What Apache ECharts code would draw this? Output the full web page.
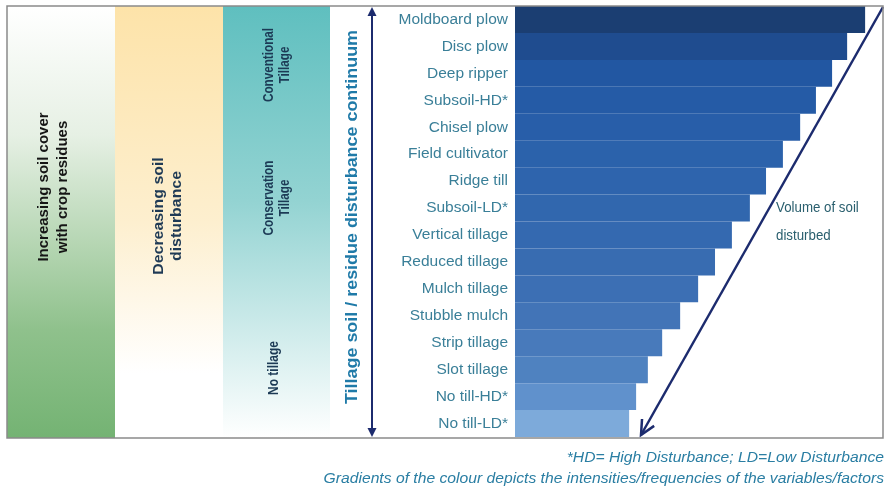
<!DOCTYPE html>
<html>
<head>
<meta charset="utf-8">
<script src="https://cdn.jsdelivr.net/npm/echarts@6/dist/echarts.min.js"></script>
<style>
  html, body { margin: 0; padding: 0; background: #fff; }
  #main { width: 886px; height: 491px; }
</style>
</head>
<body>
<div id="main"></div>
<script>
// tillage practices, most disturbing first
var practices = ['Moldboard plow', 'Disc plow', 'Deep ripper', 'Subsoil-HD*', 'Chisel plow',
  'Field cultivator', 'Ridge till', 'Subsoil-LD*', 'Vertical tillage', 'Reduced tillage',
  'Mulch tillage', 'Stubble mulch', 'Strip tillage', 'Slot tillage', 'No till-HD*', 'No till-LD*'];
// relative volume of soil disturbed (bar length)
var volumeDisturbed = [95.4, 90.5, 86.4, 82.0, 77.7, 73.0, 68.4, 64.0, 59.1, 54.5, 49.9, 45.0, 40.1, 36.2, 33.0, 31.1];
// shading, dark -> light
var barColors = ['#1b3e72', '#1f4c8f', '#2257a2', '#255ba6', '#285ea9', '#2b62ab', '#2e64ad', '#3167ae',
  '#3469b0', '#386cb1', '#3c6fb4', '#4274b7', '#487abb', '#4f82c0', '#6091cc', '#7daada'];

var colTexts = ['Increasing soil cover\nwith crop residues', 'Decreasing soil\ndisturbance'];
var tillageGroups = ['Conventional\nTillage', 'Conservation\nTillage', 'No tillage'];
var footnotes = ['*HD= High Disturbance; LD=Low Disturbance',
  'Gradients of the colour depicts the intensities/frequencies of the variables/factors'];

var myChart = echarts.init(document.getElementById('main'));

var FONT = 'Liberation Sans, Arial, sans-serif';
var navy = '#1c2b6e';

function grad(stops) {
  return new echarts.graphic.LinearGradient(0, 0, 0, 1, stops);
}

// arrow head helper (open V)
function arrowHead(x, y, fromX, fromY, len, ang) {
  var dx = fromX - x, dy = fromY - y;
  var d = Math.sqrt(dx * dx + dy * dy);
  var ux = dx / d, uy = dy / d;
  var pts = [];
  [ang, -ang].forEach(function (a) {
    var c = Math.cos(a), s = Math.sin(a);
    pts.push([x + len * (ux * c - uy * s), y + len * (ux * s + uy * c)]);
  });
  return [pts[0], [x, y], pts[1]];
}

var diagStart = [883, 7], diagEnd = [641, 435];

var graphics = [
  // left shaded columns
  { type: 'rect', shape: { x: 7, y: 6, width: 108, height: 432 }, z: 0,
    style: { fill: grad([{ offset: 0, color: '#ffffff' }, { offset: 0.3, color: '#e6f0e4' }, { offset: 0.75, color: '#8fc18c' }, { offset: 1, color: '#74b373' }]) } },
  { type: 'rect', shape: { x: 115, y: 6, width: 108, height: 432 }, z: 0,
    style: { fill: grad([{ offset: 0, color: '#fde3a9' }, { offset: 0.5, color: '#fdefcf' }, { offset: 0.85, color: '#ffffff' }, { offset: 1, color: '#ffffff' }]) } },
  { type: 'rect', shape: { x: 223, y: 6, width: 107, height: 432 }, z: 0,
    style: { fill: grad([{ offset: 0, color: '#5fbfbf' }, { offset: 0.45, color: '#93d3d2' }, { offset: 1, color: '#ffffff' }]) } },
  // rotated column texts
  { type: 'text', x: 53, y: 187, rotation: Math.PI / 2, z: 5,
    style: { text: colTexts[0], font: 'bold 15px ' + FONT, fill: '#151515', align: 'center', verticalAlign: 'middle', lineHeight: 19 } },
  { type: 'text', x: 168, y: 216, rotation: Math.PI / 2, z: 5,
    style: { text: colTexts[1], font: 'bold 15px ' + FONT, fill: '#1f3a55', align: 'center', verticalAlign: 'middle', lineHeight: 18 },
    scaleX: 1.06 },
  { type: 'text', x: 277, y: 65, rotation: Math.PI / 2, z: 5, scaleX: 0.78,
    style: { text: tillageGroups[0], font: 'bold 15px ' + FONT, fill: '#1c3a55', align: 'center', verticalAlign: 'middle', lineHeight: 16 } },
  { type: 'text', x: 277, y: 198, rotation: Math.PI / 2, z: 5, scaleX: 0.78,
    style: { text: tillageGroups[1], font: 'bold 15px ' + FONT, fill: '#1c3a55', align: 'center', verticalAlign: 'middle', lineHeight: 16 } },
  { type: 'text', x: 274, y: 368, rotation: Math.PI / 2, z: 5, scaleX: 0.8,
    style: { text: tillageGroups[2], font: 'bold 15px ' + FONT, fill: '#1c3a55', align: 'center', verticalAlign: 'middle' } },
  // continuum double arrow
  { type: 'line', shape: { x1: 372, y1: 14, x2: 372, y2: 430 }, z: 5, style: { stroke: navy, lineWidth: 2 } },
  { type: 'polygon', shape: { points: [[372, 7], [367.5, 16], [376.5, 16]] }, z: 5, style: { fill: navy } },
  { type: 'polygon', shape: { points: [[372, 437], [367.5, 428], [376.5, 428]] }, z: 5, style: { fill: navy } },
  { type: 'text', x: 353, y: 217, rotation: Math.PI / 2, z: 5, scaleX: 1.12,
    style: { text: 'Tillage soil / residue disturbance continuum', font: 'bold 16px ' + FONT, fill: '#1f7aa8', align: 'center', verticalAlign: 'middle' } },
  // diagonal arrow
  { type: 'line', shape: { x1: diagStart[0], y1: diagStart[1], x2: diagEnd[0], y2: diagEnd[1] }, z: 5, style: { stroke: navy, lineWidth: 2.5 } },
  { type: 'polyline', shape: { points: arrowHead(diagEnd[0], diagEnd[1], diagStart[0], diagStart[1], 16, 0.45) }, z: 5,
    style: { stroke: navy, lineWidth: 2.5, fill: null } },
  { type: 'text', x: 776, y: 222, z: 5,
    style: { text: 'Volume of soil\ndisturbed', font: '14px ' + FONT, fill: '#2a5f6e', align: 'left', verticalAlign: 'middle', lineHeight: 28 },
    scaleX: 0.95 },
  // frame
  { type: 'rect', shape: { x: 7, y: 6, width: 876, height: 432 }, z: 10,
    style: { fill: null, stroke: '#8a8a8a', lineWidth: 1.5 } },
  // footnotes
  { type: 'text', x: 884, y: 458, z: 5, scaleX: 1.12,
    style: { text: footnotes[0], font: 'italic 14px ' + FONT, fill: '#2a7ea3', align: 'right', verticalAlign: 'middle' } },
  { type: 'text', x: 884, y: 479, z: 5, scaleX: 1.12,
    style: { text: footnotes[1], font: 'italic 14px ' + FONT, fill: '#2a7ea3', align: 'right', verticalAlign: 'middle' } }
];

myChart.setOption({
  animation: false,
  grid: { left: 515, top: 6, width: 367, height: 431 },
  xAxis: { type: 'value', min: 0, max: 100, show: false },
  yAxis: {
    type: 'category',
    inverse: true,
    data: practices,
    axisLine: { show: false },
    axisTick: { show: false },
    axisLabel: { color: '#3a7f98', fontSize: 15.5, fontFamily: FONT, margin: 7 }
  },
  series: [{
    type: 'bar',
    barCategoryGap: 0,
    data: volumeDisturbed.map(function (v, i) {
      return { value: v, itemStyle: { color: barColors[i] } };
    })
  }],
  graphic: graphics
});
</script>
</body>
</html>
